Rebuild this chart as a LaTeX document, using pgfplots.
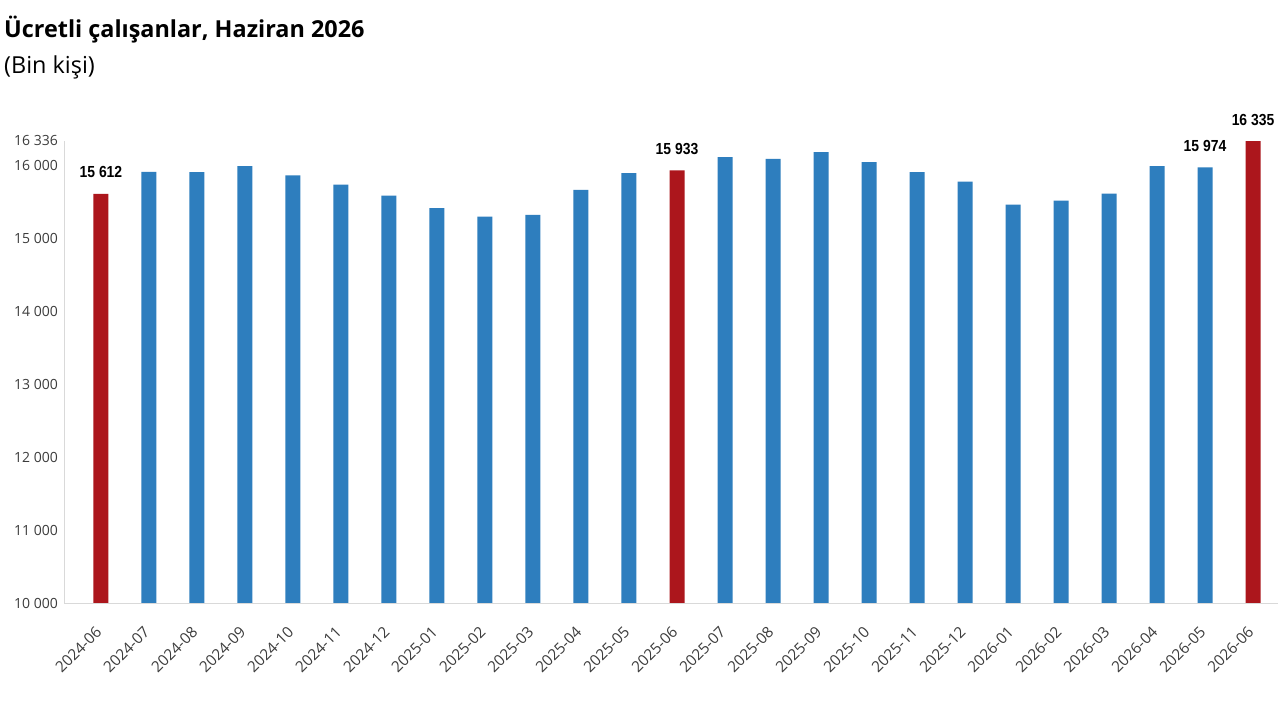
\documentclass[border=0pt]{standalone}
\usepackage{fontspec}
\setmainfont{Open Sans}
\newfontfamily\titlefont{Open Sans}
\newfontfamily\narrowbold[FakeStretch=0.87]{Liberation Sans}
\usepackage{pgfplots}
\pgfplotsset{compat=1.18}
\definecolor{barblue}{RGB}{46,126,190}
\definecolor{barred}{RGB}{172,22,28}
\definecolor{axgray}{RGB}{217,217,217}
\definecolor{txtgray}{RGB}{60,60,60}
\begin{document}
\begin{tikzpicture}[x=1pt,y=1pt]
\path[use as bounding box,fill=white] (0,0) rectangle (1280,720);
\node[anchor=west,inner sep=0,font=\titlefont\bfseries\fontsize{23.4}{27}\selectfont] at (4,690) {Ücretli çalışanlar, Haziran 2026};
\node[anchor=west,inner sep=0,font=\titlefont\fontsize{23.4}{27}\selectfont] at (4,653) {(Bin kişi)};
\begin{axis}[
  scale only axis,
  width=1214pt, height=462pt,
  at={(64pt,117pt)}, anchor=south west,
  xmin=-0.77, xmax=24.52,
  ymin=10000, ymax=16336,
  axis x line*=bottom, axis y line*=left,
  axis line style={draw=axgray, line width=0.8pt, -},
  major tick length=0pt,
  xtick={0,...,24},
  xticklabels={2024-06,2024-07,2024-08,2024-09,2024-10,2024-11,2024-12,2025-01,2025-02,2025-03,2025-04,2025-05,2025-06,2025-07,2025-08,2025-09,2025-10,2025-11,2025-12,2026-01,2026-02,2026-03,2026-04,2026-05,2026-06},
  xticklabel style={rotate=45, anchor=east, inner sep=0pt, xshift=-20pt, yshift=-17pt, font=\fontsize{15.3}{18}\selectfont, text=txtgray},
  scaled y ticks=false,
  ytick={10000,11000,12000,13000,14000,15000,16000,16336},
  yticklabel style={font=\fontsize{14}{17}\selectfont, text=txtgray, inner sep=0pt, xshift=-6pt,
    /pgf/number format/.cd, fixed, precision=0, 1000 sep={\ }, assume math mode=true},
  clip=false,
]
\addplot[ybar, bar width=15pt, bar shift=0pt, fill=barblue, draw=none] coordinates {
(1,15913) (2,15908) (3,15990) (4,15863) (5,15739) (6,15588) (7,15414) (8,15299) (9,15323) (10,15666) (11,15894)
(13,16114) (14,16092) (15,16183) (16,16046) (17,15908) (18,15780) (19,15464) (20,15519) (21,15615) (22,15990) (23,15974)
};
\addplot[ybar, bar width=15pt, bar shift=0pt, fill=barred, draw=none,
  point meta=y, nodes near coords,
  nodes near coords style={font=\narrowbold\bfseries\fontsize{16}{18}\selectfont, text=black, anchor=base, inner sep=0pt, yshift=16pt,
    /pgf/number format/.cd, fixed, precision=0, 1000 sep={\ }, assume math mode=true}] coordinates {
(0,15612) (12,15933) (24,16335)
};
\addplot[draw=none, mark=none, point meta=y, nodes near coords,
  nodes near coords style={font=\narrowbold\bfseries\fontsize{16}{18}\selectfont, text=black, anchor=base, inner sep=0pt, yshift=16pt,
    /pgf/number format/.cd, fixed, precision=0, 1000 sep={\ }, assume math mode=true}] coordinates {
(23,15974)
};
\end{axis}
\end{tikzpicture}
\end{document}
